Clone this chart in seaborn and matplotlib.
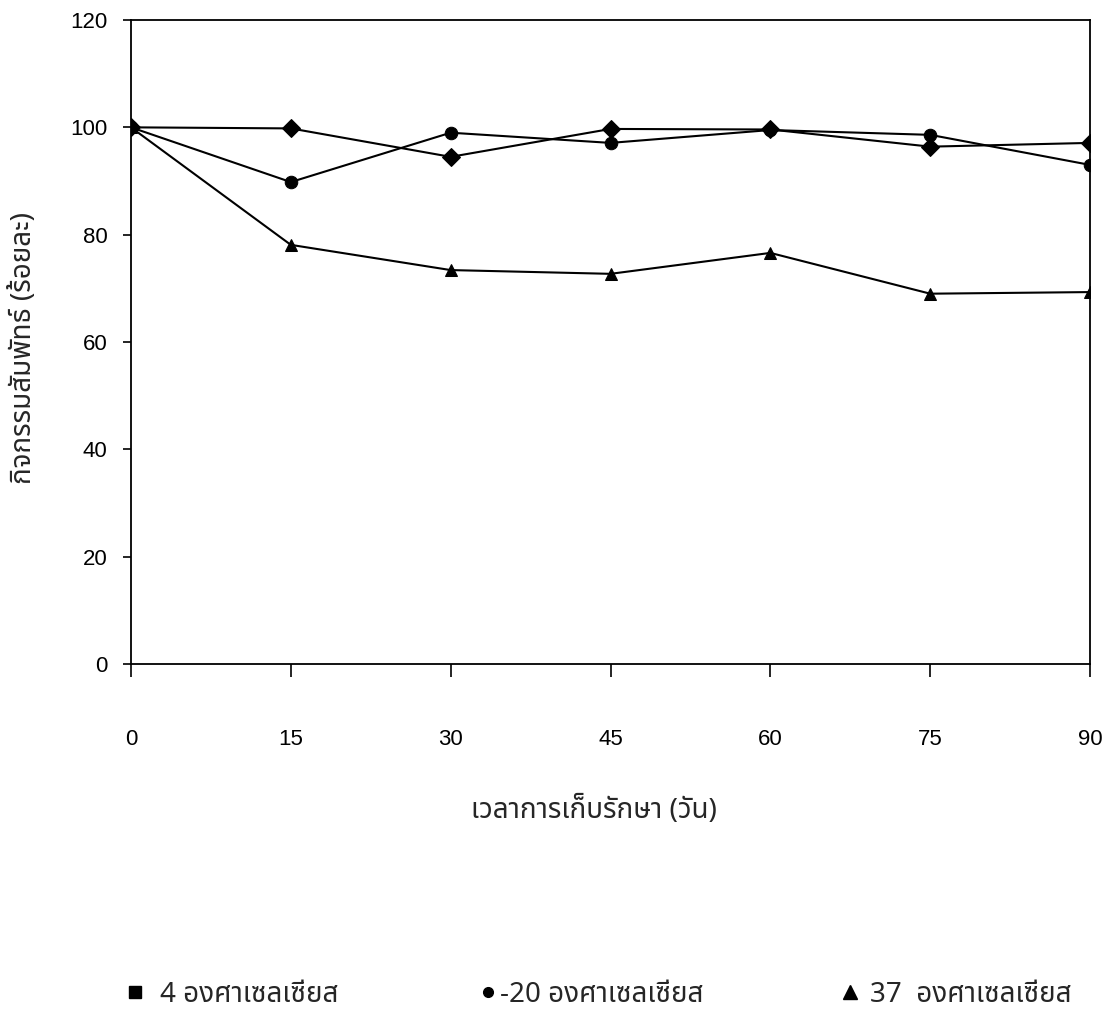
import matplotlib
matplotlib.use("Agg")
import matplotlib.pyplot as plt
from matplotlib.lines import Line2D
import pandas as pd
import seaborn as sns

days = [0, 15, 30, 45, 60, 75, 90]
act_4c = [100, 99.8, 94.5, 99.7, 99.6, 96.4, 97.1]
act_minus20c = [100, 89.8, 99.0, 97.1, 99.5, 98.6, 93.0]
act_37c = [100, 78.1, 73.4, 72.7, 76.6, 69.0, 69.3]
series_names = ["4 องศาเซลเซียส", "-20 องศาเซลเซียส", "37  องศาเซลเซียส"]
y_ticks = [0, 20, 40, 60, 80, 100, 120]
x_ticks = [0, 15, 30, 45, 60, 75, 90]

df = pd.DataFrame({
    "day": days * 3,
    "activity": act_4c + act_minus20c + act_37c,
    "temp": [series_names[0]] * 7 + [series_names[1]] * 7 + [series_names[2]] * 7,
})

sns.set_style("white")
num_font = ["Liberation Sans", "DejaVu Sans"]
thai_font = ["Noto Sans Thai", "DejaVu Sans"]
plt.rcParams["font.family"] = num_font

fig = plt.figure(figsize=(11.08, 10.21), dpi=100)
ax = fig.add_axes([0.1182, 0.3497, 0.8656, 0.6307])

sns.lineplot(data=df, x="day", y="activity", hue="temp", style="temp",
             palette=["black"] * 3, dashes=False,
             markers={series_names[0]: "D", series_names[1]: "o", series_names[2]: "^"},
             markersize=9, linewidth=1.5, markeredgecolor="black",
             legend=False, ax=ax)

ax.set_xlim(0, 90)
ax.set_ylim(0, 120)
ax.set_xticks(x_ticks)
ax.set_yticks(y_ticks)
for s in ax.spines.values():
    s.set_visible(True)
    s.set_color("black")
    s.set_linewidth(1.3)
ax.tick_params(axis="x", direction="out", length=9, width=1.2, pad=38, labelsize=16, bottom=True, colors="black")
ax.tick_params(axis="y", direction="out", length=6, width=1.2, pad=11, labelsize=16, left=True, colors="black")
ax.set_xlabel("เวลาการเก็บรักษา (วัน)", family=thai_font, fontsize=20)
ax.set_ylabel("กิจกรรมสัมพัทธ์ (ร้อยละ)", family=thai_font, fontsize=20)
ax.xaxis.set_label_coords(0.483, -0.205)
ax.yaxis.set_label_coords(-0.097, 0.49)

# Legend row along the bottom: one small legend per entry
handles = [
    Line2D([], [], color="black", marker="s", linestyle="none", markersize=8.5),
    Line2D([], [], color="black", marker="o", linestyle="none", markersize=7),
    Line2D([], [], color="black", marker="^", linestyle="none", markersize=10),
]
anchors = [(126.7 / 1108, 0.0255), (479.7 / 1108, 0.0255), (841.7 / 1108, 0.0255)]
text_pads = [0.6, 0.13, 0.42]
for h, name, a, tp in zip(handles, series_names, anchors, text_pads):
    fig.legend([h], [name], loc="center left", bbox_to_anchor=a,
               frameon=False, handlelength=0.6, handletextpad=tp,
               borderpad=0, borderaxespad=0,
               prop={"family": thai_font, "size": 20})

fig.savefig("out.png", dpi=100)
